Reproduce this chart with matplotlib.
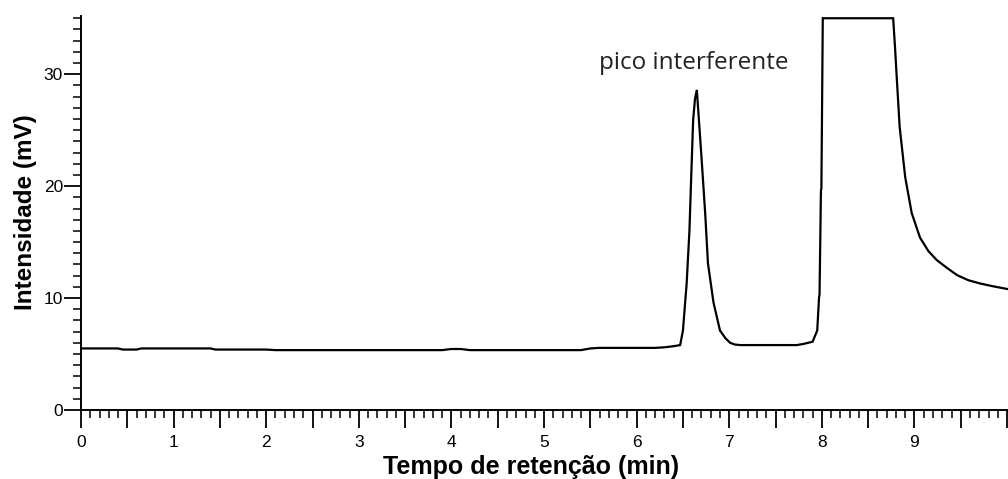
import matplotlib

matplotlib.use("Agg")
import matplotlib.pyplot as plt
from matplotlib.ticker import FuncFormatter, MultipleLocator

# chromatogram trace (time in min, intensity in mV)
time_min = [0.00, 0.40, 0.45, 0.60, 0.65, 1.40, 1.45, 2.00, 2.10, 3.90, 4.00,
            4.10, 4.20, 5.40, 5.50, 5.60, 6.20, 6.30, 6.40, 6.47, 6.50, 6.54,
            6.57, 6.59, 6.61, 6.63, 6.65, 6.67, 6.70, 6.74, 6.77, 6.83, 6.90,
            6.96, 7.01, 7.06, 7.12, 7.73, 7.80, 7.90, 7.95, 7.97, 7.975, 7.99,
            7.995, 8.01, 8.77, 8.79, 8.81, 8.84, 8.90, 8.97, 9.06, 9.15, 9.24,
            9.35, 9.46, 9.58, 9.71, 9.85, 10.01]
intensity_mv = [5.5, 5.5, 5.4, 5.4, 5.5, 5.5, 5.4, 5.4, 5.35, 5.35, 5.45,
                5.45, 5.35, 5.35, 5.5, 5.55, 5.55, 5.6, 5.7, 5.8, 7.1, 11.3,
                16.0, 21.0, 25.9, 27.8, 28.6, 26.2, 22.6, 17.6, 13.1, 9.6, 7.1,
                6.4, 6.0, 5.85, 5.8, 5.8, 5.9, 6.1, 7.1, 10.1, 10.3, 19.6,
                19.8, 35.0, 35.0, 32.4, 29.5, 25.3, 20.8, 17.6, 15.4, 14.2,
                13.4, 12.7, 12.05, 11.6, 11.3, 11.05, 10.8]
x_labelled = [0, 1, 2, 3, 4, 5, 6, 7, 8, 9]

ANNOT_TEXT = "pico interferente"
ANNOT_X, ANNOT_Y = 6.62, 31.0

LABEL_FONT = ["Liberation Sans Narrow", "Liberation Sans", "DejaVu Sans"]


def x_fmt(v, _):
    r = round(v)
    return f"{r}" if abs(v - r) < 1e-6 and r in x_labelled else ""


fig = plt.figure(figsize=(10.08, 4.79), dpi=100)
ax = fig.add_axes([81 / 1008, 1 - 410 / 479, 927 / 1008, 394 / 479])

ax.plot(time_min, intensity_mv, color="black", lw=1.6, solid_joinstyle="miter")
ax.text(ANNOT_X, ANNOT_Y, ANNOT_TEXT, ha="center", va="center",
        fontsize=17.5, family="Open Sans", color="#222222")

ax.set_xlim(0, 10.01)
ax.set_ylim(0, 35.2)

for side in ("top", "right"):
    ax.spines[side].set_visible(False)
for side in ("left", "bottom"):
    ax.spines[side].set_linewidth(1.4)

ax.xaxis.set_major_locator(MultipleLocator(0.5))
ax.xaxis.set_minor_locator(MultipleLocator(0.1))
ax.xaxis.set_major_formatter(FuncFormatter(x_fmt))
ax.yaxis.set_major_locator(MultipleLocator(10))
ax.yaxis.set_minor_locator(MultipleLocator(1))

ax.tick_params(axis="x", which="major", length=13, width=1.3, pad=5,
               labelsize=12.5)
ax.tick_params(axis="x", which="minor", length=6, width=1.1)
ax.tick_params(axis="y", which="major", length=12, width=1.3, pad=1,
               labelsize=12.5)
ax.tick_params(axis="y", which="minor", length=6, width=1.1)
for lab in ax.get_xticklabels() + ax.get_yticklabels():
    lab.set_family(LABEL_FONT)

ax.set_xlabel("Tempo de retenção (min)", family=LABEL_FONT, fontweight="bold",
              fontsize=18)
ax.set_ylabel("Intensidade (mV)", family=LABEL_FONT, fontweight="bold",
              fontsize=17.5)
ax.xaxis.set_label_coords(0.485, -0.113)
ax.yaxis.set_label_coords(-0.048, 0.503)

fig.savefig("out.png", dpi=100)
